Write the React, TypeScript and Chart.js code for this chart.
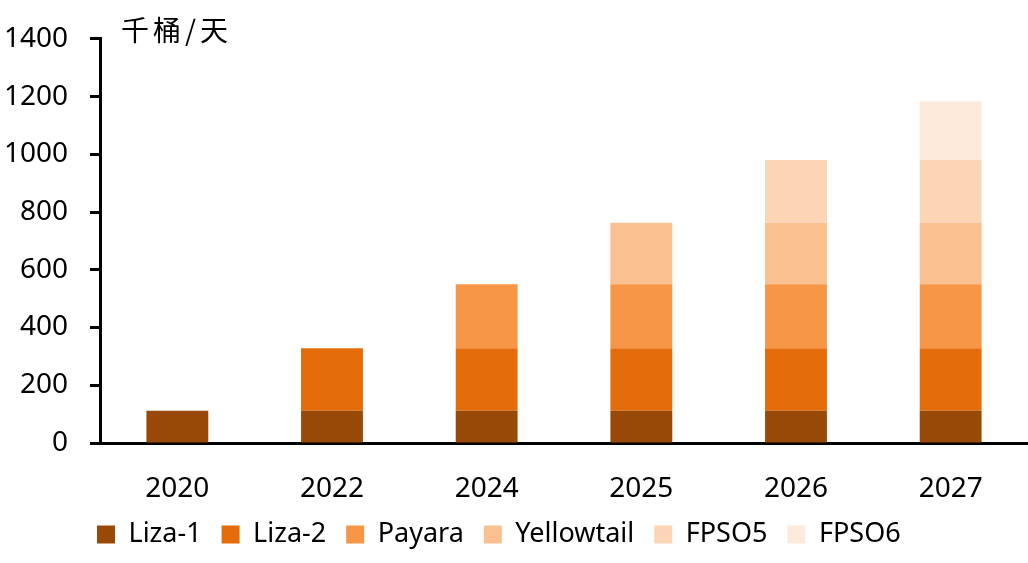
import React, { useEffect, useRef } from "react";
import { Chart, registerables } from "chart.js";

Chart.register(...registerables);

const categories = ["2020", "2022", "2024", "2025", "2026", "2027"];
const liza1 = [112, 112, 112, 112, 112, 112];
const liza2 = [null, 216, 216, 216, 216, 216];
const payara = [null, null, 222, 222, 222, 222];
const yellowtail = [null, null, null, 213, 213, 213];
const fpso5 = [null, null, null, null, 217, 217];
const fpso6 = [null, null, null, null, null, 204];
const seriesNames = ["Liza-1", "Liza-2", "Payara", "Yellowtail", "FPSO5", "FPSO6"];
const seriesColors = ["#984807", "#E46C0A", "#F79646", "#FAC090", "#FCD5B5", "#FDEADA"];
const unitLabel = "千桶/天";

const legendShift = {
  id: "legendShift",
  afterLayout(chart: any) {
    if (chart.legend) {
      chart.legend.left = 77;
    }
  },
};

export default function App() {
  const canvasRef = useRef<HTMLCanvasElement | null>(null);

  useEffect(() => {
    const ctx = canvasRef.current;
    if (!ctx) return;
    const seriesData = [liza1, liza2, payara, yellowtail, fpso5, fpso6];
    const chart = new Chart(ctx, {
      type: "bar",
      data: {
        labels: categories,
        datasets: seriesData.map((d, i) => ({
          label: seriesNames[i],
          data: d,
          backgroundColor: seriesColors[i],
          borderWidth: 0,
          categoryPercentage: 1,
          barPercentage: 0.4,
        })),
      },
      plugins: [legendShift],
      options: {
        responsive: false,
        animation: false,
        layout: { padding: { top: 37, right: 0, left: 0, bottom: 5 } },
        plugins: {
          tooltip: { enabled: false },
          legend: {
            position: "bottom",
            align: "start",
            labels: {
              boxWidth: 18,
              boxHeight: 18,
              padding: 20,
              color: "#000",
              font: { family: "'Noto Sans'", size: 27 },
            },
          },
        },
        scales: {
          x: {
            stacked: true,
            grid: { display: false },
            border: { display: true, color: "#000", width: 3 },
            ticks: {
              color: "#000",
              padding: 21,
              font: { family: "'Noto Sans'", size: 28 },
            },
            afterFit: (scale: any) => {
              scale.height = 58;
            },
          },
          y: {
            stacked: true,
            min: 0,
            max: 1400,
            ticks: {
              stepSize: 200,
              color: "#000",
              padding: 22,
              font: { family: "'Noto Sans'", size: 28 },
              callback: (v: any) => String(v),
            },
            grid: {
              display: true,
              drawOnChartArea: false,
              drawTicks: true,
              tickLength: 10,
              tickWidth: 3,
              tickColor: "#000",
            },
            border: { display: true, color: "#000", width: 3 },
            afterFit: (scale: any) => {
              scale.width = 100;
            },
          },
        },
      },
    });
    return () => chart.destroy();
  }, []);

  return (
    <div style={{ position: "absolute", left: 0, top: 0, width: 1028, height: 563, background: "#fff" }}>
      <canvas ref={canvasRef} width={1028} height={563} style={{ display: "block" }} />
      <div
        style={{
          position: "absolute",
          left: 121,
          top: 11,
          fontFamily: "'Noto Sans CJK SC'",
          fontSize: 28,
          letterSpacing: 4,
          color: "#000",
          lineHeight: "36px",
          whiteSpace: "nowrap",
        }}
      >
        {unitLabel}
      </div>
    </div>
  );
}
